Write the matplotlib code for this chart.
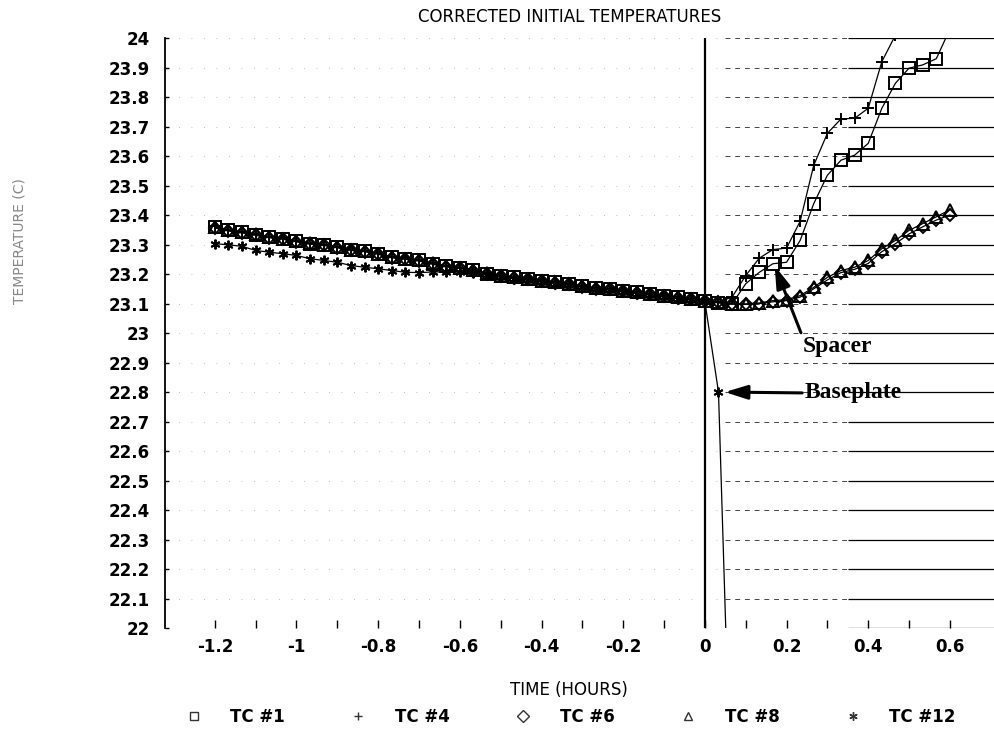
import numpy as np
import matplotlib
matplotlib.use("Agg")
import matplotlib.pyplot as plt
from matplotlib.lines import Line2D

# sampling every 2 minutes, from -72 min to +36 min
minutes = list(range(-72, 38, 2))
hours = np.array(minutes) / 60.0

tc1 = [23.359, 23.348, 23.342, 23.334, 23.325, 23.320, 23.311, 23.303, 23.299, 23.291,
       23.282, 23.278, 23.269, 23.257, 23.252, 23.246, 23.235, 23.226, 23.221, 23.214,
       23.201, 23.195, 23.189, 23.184, 23.178, 23.172, 23.167, 23.159, 23.152, 23.150,
       23.144, 23.138, 23.133, 23.127, 23.121, 23.116, 23.110,
       23.102, 23.099, 23.167, 23.206, 23.235, 23.240, 23.314, 23.439, 23.535, 23.586,
       23.603, 23.643, 23.762, 23.847, 23.898, 23.909, 23.930, 24.030]

tc4 = [23.362, 23.350, 23.344, 23.336, 23.327, 23.321, 23.313, 23.305, 23.300, 23.293,
       23.284, 23.279, 23.270, 23.259, 23.253, 23.247, 23.237, 23.228, 23.222, 23.215,
       23.203, 23.196, 23.190, 23.185, 23.179, 23.173, 23.168, 23.160, 23.153, 23.151,
       23.145, 23.139, 23.134, 23.128, 23.122, 23.117, 23.111,
       23.105, 23.122, 23.195, 23.254, 23.283, 23.288, 23.379, 23.569, 23.677, 23.726,
       23.728, 23.762, 23.920, 24.010, np.nan, np.nan, np.nan, np.nan]

tc6 = [23.356, 23.346, 23.339, 23.331, 23.323, 23.318, 23.309, 23.301, 23.297, 23.289,
       23.280, 23.276, 23.267, 23.255, 23.250, 23.244, 23.233, 23.224, 23.219, 23.212,
       23.199, 23.193, 23.187, 23.182, 23.176, 23.170, 23.165, 23.157, 23.150, 23.148,
       23.142, 23.136, 23.131, 23.125, 23.119, 23.114, 23.108,
       23.104, 23.098, 23.097, 23.100, 23.106, 23.110, 23.122, 23.150, 23.180, 23.205,
       23.216, 23.236, 23.276, 23.303, 23.336, 23.360, 23.383, 23.400]

tc8 = [23.360, 23.349, 23.343, 23.335, 23.326, 23.320, 23.312, 23.304, 23.299, 23.292,
       23.283, 23.278, 23.269, 23.258, 23.252, 23.246, 23.236, 23.227, 23.221, 23.214,
       23.202, 23.195, 23.189, 23.184, 23.178, 23.172, 23.167, 23.159, 23.152, 23.150,
       23.144, 23.138, 23.133, 23.127, 23.121, 23.116, 23.110,
       23.106, 23.099, 23.099, 23.102, 23.110, 23.113, 23.127, 23.155, 23.189, 23.212,
       23.223, 23.246, 23.286, 23.314, 23.348, 23.371, 23.394, 23.418]

tc12 = [23.303, 23.299, 23.294, 23.280, 23.274, 23.269, 23.263, 23.252, 23.246, 23.240,
        23.229, 23.223, 23.218, 23.212, 23.206, 23.205, 23.207, 23.208, 23.206, 23.203,
        23.196, 23.190, 23.184, 23.179, 23.173, 23.167, 23.162, 23.155, 23.148, 23.146,
        23.140, 23.134, 23.129, 23.123, 23.117, 23.112, 23.107,
        22.800, 21.300, np.nan, np.nan, np.nan, np.nan, np.nan, np.nan, np.nan, np.nan,
        np.nan, np.nan, np.nan, np.nan, np.nan, np.nan, np.nan, np.nan]

series_names = ["TC #1", "TC #4", "TC #6", "TC #8", "TC #12"]
x_tick_labels = ["-1.2", "-1", "-0.8", "-0.6", "-0.4", "-0.2", "0", "0.2", "0.4", "0.6"]
y_tick_labels = ["22", "22.1", "22.2", "22.3", "22.4", "22.5", "22.6", "22.7", "22.8", "22.9",
                 "23", "23.1", "23.2", "23.3", "23.4", "23.5", "23.6", "23.7", "23.8", "23.9", "24"]

fig = plt.figure(figsize=(9.94, 7.32), dpi=100)
ax = fig.add_axes([0.166, 0.142, 0.834, 0.806])

y_levels = np.array([float(s) for s in y_tick_labels])

# broken-looking grid: faint dots on the left, dashes in the middle, solid on the right
ax.hlines(y_levels, -1.32, 0.05, colors="#aaaaaa", linewidth=0.6, linestyles=(0, (1, 14)), zorder=1)
ax.hlines(y_levels, 0.05, 0.35, colors="#444444", linewidth=0.7, linestyles=(0, (5, 5)), zorder=1)
ax.hlines(y_levels, 0.35, 0.71, colors="black", linewidth=0.9, zorder=1)
ax.axvline(0, color="black", linewidth=1.6, zorder=2)

styles = [
    dict(marker="s", markersize=8),
    dict(marker="+", markersize=8),
    dict(marker="D", markersize=6),
    dict(marker="^", markersize=8),
    dict(marker=(6, 2, 0), markersize=7),
]
for vals, st in zip([tc1, tc4, tc6, tc8, tc12], styles):
    ax.plot(hours, vals, color="black", linewidth=0.9, markerfacecolor="none",
            markeredgecolor="black", markeredgewidth=1.4, zorder=3, **st)

ax.set_xlim(-1.322, 0.708)
ax.set_ylim(22, 24)

ax.set_xticks([float(s) for s in x_tick_labels])
ax.set_xticks(np.arange(-11, 7, 2) / 10.0, minor=True)
ax.set_xticklabels(x_tick_labels)
ax.set_yticks(y_levels)
ax.set_yticklabels(y_tick_labels)

for lab in ax.get_xticklabels() + ax.get_yticklabels():
    lab.set_fontweight("bold")
    lab.set_fontsize(12)

ax.tick_params(axis="x", which="both", direction="in", length=6, width=1, pad=7)
ax.tick_params(axis="y", direction="in", length=3, width=1, pad=11)

for side in ["top", "right", "bottom"]:
    ax.spines[side].set_visible(False)
ax.spines["left"].set_linewidth(1.3)

fig.text(0.573, 0.977, "CORRECTED INITIAL TEMPERATURES", ha="center", va="center", fontsize=12)
fig.text(0.572, 0.057, "TIME (HOURS)", ha="center", va="center", fontsize=12)
fig.text(0.02, 0.67, "TEMPERATURE (C)", rotation=90, ha="center", va="center",
         fontsize=10, color="#888888")

arrow_style = "-|>,head_length=0.8,head_width=0.25"
ax.annotate("Spacer", xy=(0.171, 23.228), xytext=(0.240, 22.956),
            fontsize=17, fontweight="bold", family="Liberation Serif", ha="left", va="center",
            arrowprops=dict(arrowstyle=arrow_style, lw=2.2,
                            color="black", shrinkA=0, shrinkB=0, relpos=(0.0, 0.9)))
ax.annotate("Baseplate", xy=(0.049, 22.80), xytext=(0.245, 22.797),
            fontsize=17, fontweight="bold", family="Liberation Serif", ha="left", va="center",
            arrowprops=dict(arrowstyle=arrow_style, lw=2.2,
                            color="black", shrinkA=0, shrinkB=0, relpos=(0.0, 0.5)))

handles = [Line2D([], [], linestyle="none", color="#333333", markerfacecolor="none",
                  markeredgewidth=1.0, marker=st["marker"], markersize=6) for st in styles]
fig.legend(handles, series_names, loc="center", bbox_to_anchor=(0.574, 0.021), ncol=5,
           frameon=False, handlelength=1.0, handletextpad=1.7, columnspacing=3.9,
           prop={"weight": "bold", "size": 12})

fig.savefig("out.png", dpi=100)
